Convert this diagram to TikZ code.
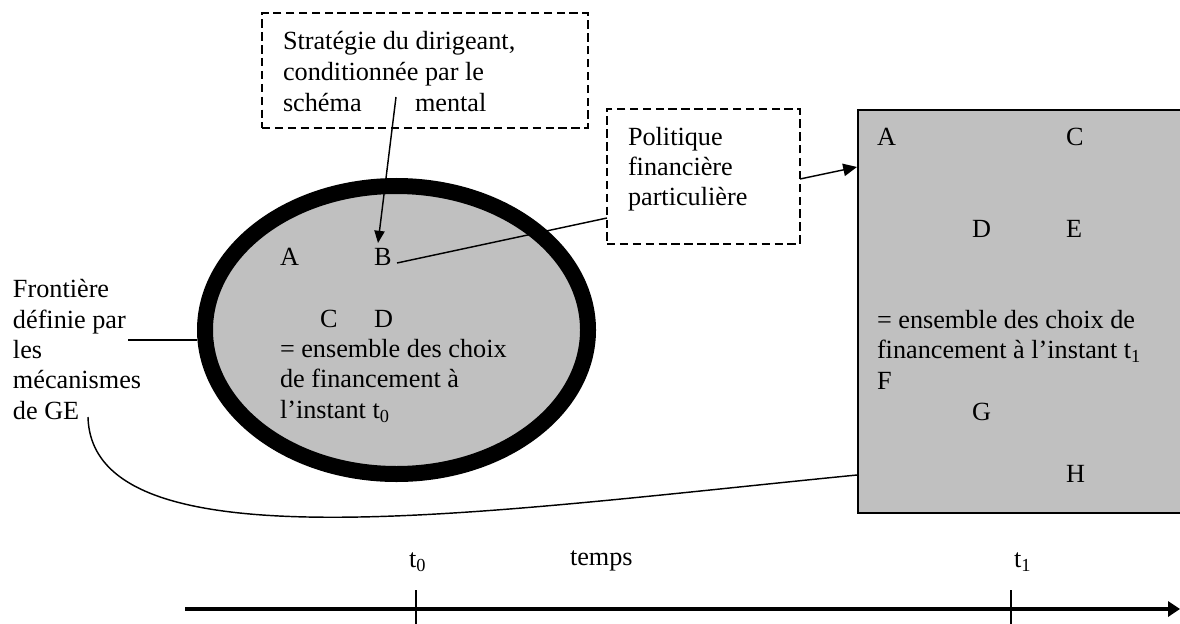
\documentclass[tikz,border=0pt]{standalone}
\usepackage{fontspec}
\setmainfont{Liberation Serif}
\usetikzlibrary{arrows.meta,calc,shapes.geometric}
\definecolor{boxgray}{HTML}{C0C0C0}
\begin{document}
\begin{tikzpicture}[x=0.45pt,y=-0.45pt,
  font=\fontsize{11.8}{14}\selectfont,
  txt/.style={anchor=base west, inner sep=0pt, outer sep=0pt},
  dashbox/.style={draw, dash pattern=on 3.8pt off 2pt, line width=0.6pt, inner sep=0pt, minimum width=#1},
  thinline/.style={line width=0.65pt},
  smalltip/.style={-{Triangle[length=5.5pt,width=4.6pt]}},
  bigtip/.style={-{Triangle[length=6.2pt,width=5.6pt]}}]

\useasboundingbox (0,0) rectangle (1180,623);

% shapes
\node[draw, line width=0.8pt, fill=boxgray, anchor=north west, inner sep=0pt,
      minimum width=165pt, minimum height=181.35pt] (R) at (857,109) {};
\node[ellipse, draw, fill=boxgray, line width=7.2pt, inner sep=0pt,
      minimum width=172.35pt, minimum height=129.6pt] (ell) at (396.5,330) {};
\node[dashbox=146.7pt, minimum height=51.75pt] (strat) at (425,70.5) {};
\node[dashbox=86.85pt, minimum height=60.75pt] (pol) at (703.5,176.5) {};

% strategy text
\node[txt] (s1) at (283,50) {Stratégie du dirigeant,};
\node[txt] (s2) at (283,80.6) {conditionnée par le};
\node[txt] (s3) at (283,111.2) {schéma};
\node[txt] (s4) at (415,111.2) {mental};

% politique text
\node[txt] (p1) at (628,145) {Politique};
\node[txt] (p2) at (628,175) {financière};
\node[txt] (p3) at (628,205) {particulière};

% frontiere text
\node[txt] (f1) at (13,297) {Frontière};
\node[txt] (f2) at (13,328) {définie par};
\node[txt] (f3) at (13,358) {les};
\node[txt] (f4) at (13,388) {mécanismes};
\node[txt] (f5) at (13,419) {de GE};

% ellipse text
\node[txt] (eA) at (280,265) {A};
\node[txt] (eB) at (374,265) {B};
\node[txt] (eC) at (320,327) {C};
\node[txt] (eD) at (374,327) {D};
\node[txt] (e1) at (280,357) {= ensemble des choix};
\node[txt] (e2) at (280,387) {de financement à};
\node[txt] (e3) at (280,418) {l’instant t\textsubscript{0}};

% rectangle text
\node[txt] (rA) at (877,145) {A};
\node[txt] (rC) at (1066,145) {C};
\node[txt] (rD) at (972,237) {D};
\node[txt] (rE) at (1066,237) {E};
\node[txt] (r1) at (877,328) {= ensemble des choix de};
\node[txt] (r2) at (877,358) {financement à l’instant t\textsubscript{1}};
\node[txt] (rF) at (877,389) {F};
\node[txt] (rG) at (972,420) {G};
\node[txt] (rH) at (1066,482) {H};

% axis labels
\node[txt] (t0) at (409,567) {t\textsubscript{0}};
\node[txt] (tm) at (570,565) {temps};
\node[txt] (t1) at (1014,567) {t\textsubscript{1}};

% connector end points
\coordinate (sA) at (396,97);
\coordinate (bTip) at (378,243);
\coordinate (bS) at (397,263);
\coordinate (pIn) at (607,218);
\coordinate (pOut) at (800,179);
\coordinate (rIn) at (857,167);
\coordinate (fl) at (128,340);
\coordinate (cS) at (88,417);
\coordinate (rB) at (857,475);
\coordinate (ax0) at (185,609);
\coordinate (ax1) at (1180,609);
\coordinate (k0a) at (416,590);
\coordinate (k0b) at (416,625);
\coordinate (k1a) at (1011,590);
\coordinate (k1b) at (1011,625);

% connectors
\draw[thinline, smalltip] (sA) -- (bTip);
\draw[thinline] (bS) -- (pIn);
\draw[thinline, bigtip] (pOut) -- (rIn);
\draw[thinline] (fl) -- (fl -| ell.west);
\draw[thinline] (cS) .. controls (92,570) and (480,512) .. (rB);
\draw[line width=1.8pt, -{Triangle[length=5.4pt,width=6.8pt]}] (ax0) -- (ax1);
\draw[line width=0.6pt] (k0a) -- (k0b);
\draw[line width=0.6pt] (k1a) -- (k1b);
\end{tikzpicture}
\end{document}
